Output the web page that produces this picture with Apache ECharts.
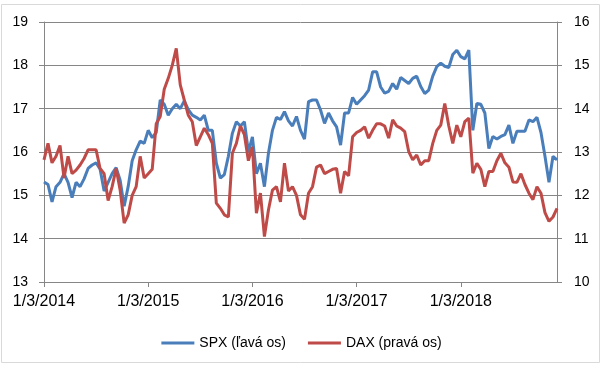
<!DOCTYPE html>
<html>
<head>
<meta charset="utf-8">
<script src="https://cdn.jsdelivr.net/npm/echarts@6/dist/echarts.min.js"></script>
<style>
html,body{margin:0;padding:0;background:#fff;}
#c{width:603px;height:367px;}
</style>
</head>
<body>
<div id="c"></div>
<script>
// Biweekly observations starting 1/3/2014
const startDate = [2014, 0, 3];
const stepDays = 14;
const SPX = [15.31,15.25,14.85,15.2,15.3,15.5,15.3,14.95,15.3,15.2,15.38,15.62,15.7,15.75,15.6,15.1,15.3,15.5,15.64,15.35,14.75,15.2,15.8,16.05,16.25,16.2,16.5,16.33,16.45,17.2,17.1,16.85,17.0,17.1,17.0,17.18,16.98,16.85,16.8,16.74,16.85,16.5,16.5,15.74,15.4,15.48,15.9,16.43,16.7,16.6,16.7,16.0,16.35,15.5,15.74,15.2,15.97,16.5,16.8,16.75,16.93,16.72,16.6,16.82,16.5,16.3,17.16,17.2,17.2,16.97,16.66,16.9,16.72,16.58,16.16,16.9,16.9,17.26,17.1,17.2,17.3,17.43,17.85,17.85,17.5,17.36,17.4,17.58,17.45,17.72,17.65,17.58,17.7,17.75,17.51,17.35,17.43,17.75,17.97,18.05,17.98,17.95,18.25,18.35,18.2,18.15,18.35,16.5,17.12,17.1,16.9,16.08,16.36,16.3,16.36,16.4,16.62,16.2,16.48,16.48,16.48,16.74,16.7,16.8,16.45,15.9,15.3,15.9,15.82];
const DAX = [12.82,13.2,12.75,12.9,13.15,12.4,12.9,12.5,12.58,12.7,12.85,13.05,13.05,13.05,12.62,12.5,11.88,12.2,12.62,12.12,11.36,11.55,12.0,12.2,12.9,12.4,12.5,12.6,13.65,13.82,14.45,14.7,15.0,15.39,14.55,14.2,13.85,13.7,13.15,13.35,13.55,13.4,13.2,11.82,11.7,11.55,11.5,12.97,13.2,13.6,13.4,12.8,13.12,11.59,12.05,11.05,11.66,12.12,12.2,11.85,12.74,12.1,12.2,12.0,11.55,11.45,12.05,12.2,12.65,12.7,12.5,12.55,12.6,12.62,12.05,12.55,12.45,13.35,13.45,13.5,13.58,13.32,13.5,13.65,13.65,13.6,13.32,13.74,13.6,13.55,13.47,13.01,12.82,12.93,12.7,12.8,12.8,13.2,13.5,13.62,14.12,13.6,13.2,13.62,13.35,13.7,13.78,12.51,12.74,12.6,12.2,12.55,12.55,12.8,12.97,12.75,12.65,12.31,12.3,12.5,12.25,12.05,11.9,12.2,12.05,11.6,11.4,11.5,11.7];
const tickLabels = ['1/3/2014','1/3/2015','1/3/2016','1/3/2017','1/3/2018'];
const leftTicks = [13,14,15,16,17,18,19];
const rightTicks = [10,11,12,13,14,15,16];
const seriesNames = ['SPX (ľavá os)', 'DAX (pravá os)'];

const t0 = Date.UTC(startDate[0], startDate[1], startDate[2]);
const dates = SPX.map((_, i) => {
  const d = new Date(t0 + i * stepDays * 86400000);
  return (d.getUTCMonth() + 1) + '/' + d.getUTCDate() + '/' + d.getUTCFullYear();
});
const tickIdx = tickLabels.map(s => {
  const p = s.split('/').map(Number);
  const t = Date.UTC(p[2], p[0] - 1, p[1]);
  return Math.round((t - t0) / 86400000 / stepDays);
});
const showTick = (i) => tickIdx.indexOf(i) >= 0;

const font = "'Liberation Sans', Arial, sans-serif";
const axisGray = '#868686';
const chart = echarts.init(document.getElementById('c'), null, {renderer: 'canvas'});
chart.setOption({
  animation: false,
  backgroundColor: '#fff',
  textStyle: {fontFamily: font},
  graphic: [{
    type: 'rect', shape: {x: 1.5, y: 4.5, width: 598, height: 358},
    style: {fill: 'none', stroke: '#d9d9d9', lineWidth: 1}, silent: true, z: -1
  }],
  grid: {left: 44, right: 46, top: 22, bottom: 85, containLabel: false},
  legend: {
    data: seriesNames,
    top: 331, left: 'center',
    icon: 'rect', itemWidth: 33, itemHeight: 3, itemGap: 22,
    textStyle: {fontFamily: font, fontSize: 14, color: '#000'}
  },
  xAxis: {
    type: 'category', data: dates, boundaryGap: false,
    axisLine: {lineStyle: {color: axisGray}},
    axisTick: {interval: showTick, length: 5, lineStyle: {color: axisGray}},
    axisLabel: {interval: showTick, formatter: (v, i) => tickLabels[tickIdx.indexOf(i)],
      fontFamily: font, fontSize: 16, color: '#000', margin: 12},
    splitLine: {show: false}
  },
  yAxis: [{
    type: 'value', min: leftTicks[0], max: leftTicks[leftTicks.length - 1], interval: 1,
    axisLine: {show: true, lineStyle: {color: axisGray}},
    axisTick: {show: true, length: 5, lineStyle: {color: axisGray}},
    axisLabel: {fontFamily: font, fontSize: 14, color: '#000', margin: 16},
    splitLine: {lineStyle: {color: axisGray, width: 1}}
  }, {
    type: 'value', min: rightTicks[0], max: rightTicks[rightTicks.length - 1], interval: 1,
    position: 'right',
    axisLine: {show: true, lineStyle: {color: axisGray}},
    axisTick: {show: true, length: 5, lineStyle: {color: axisGray}},
    axisLabel: {fontFamily: font, fontSize: 14, color: '#000', margin: 17},
    splitLine: {show: false}
  }],
  series: [{
    name: seriesNames[0], type: 'line', data: SPX, yAxisIndex: 0,
    showSymbol: false, symbol: 'none',
    lineStyle: {color: '#4a7ebb', width: 3}, itemStyle: {color: '#4a7ebb'}, z: 2
  }, {
    name: seriesNames[1], type: 'line', data: DAX, yAxisIndex: 1,
    showSymbol: false, symbol: 'none',
    lineStyle: {color: '#be4b48', width: 3}, itemStyle: {color: '#be4b48'}, z: 3
  }]
});
</script>
</body>
</html>
